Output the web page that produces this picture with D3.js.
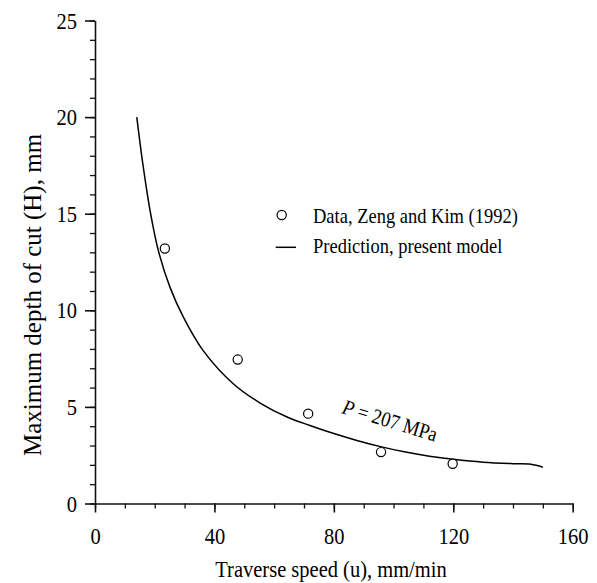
<!DOCTYPE html>
<html>
<head>
<meta charset="utf-8">
<script src="https://cdn.jsdelivr.net/npm/d3@7"></script>
<style>
  html, body { margin: 0; padding: 0; background: #fff; }
  svg { display: block; }
  text { font-family: "Liberation Serif", "Times New Roman", serif; fill: #000; }
</style>
</head>
<body>
<svg id="chart" width="597" height="583"></svg>
<script>
// Measured depth of cut (Zeng and Kim, 1992)
const dataSpeed = [23.4, 47.8, 71.4, 95.8, 119.8];
const dataDepth = [13.2, 7.45, 4.65, 2.66, 2.06];

// Model prediction, P = 207 MPa
const modelSpeed = [14.0, 16.0, 18.4, 21.2, 25.1, 29.6, 36.3, 46.3, 55.3, 64.7, 72, 80, 88, 96, 104, 112, 120, 130, 140, 146, 150];
const modelDepth = [20.0, 17.6, 15.2, 13.1, 11.2, 9.65, 7.9, 6.2, 5.2, 4.45, 4.04, 3.62, 3.25, 2.93, 2.66, 2.45, 2.29, 2.14, 2.06, 2.03, 1.88];

const xMajor = [0, 40, 80, 120, 160];
const yMajor = [0, 5, 10, 15, 20, 25];

const tall = 1.15; // glyphs in this figure are drawn slightly taller than wide

const svg = d3.select("#chart");
const x = d3.scaleLinear().domain([0, 160]).range([95, 572.7]);
const y = d3.scaleLinear().domain([0, 25]).range([503.5, 20.5]);

// minor ticks
svg.append("g")
  .attr("transform", `translate(0,${y(0)})`)
  .call(d3.axisBottom(x).tickValues(d3.range(0, 161, 10)).tickSize(5).tickSizeOuter(0).tickFormat(""))
  .call(g => g.select(".domain").remove())
  .call(g => g.selectAll("line").attr("stroke", "#111").attr("stroke-width", 1.3));
svg.append("g")
  .attr("transform", `translate(${x(0)},0)`)
  .call(d3.axisLeft(y).tickValues(d3.range(0, 26, 1)).tickSize(5).tickSizeOuter(0).tickFormat(""))
  .call(g => g.select(".domain").remove())
  .call(g => g.selectAll("line").attr("stroke", "#111").attr("stroke-width", 1.3));

// major ticks with labels
const xAxis = svg.append("g")
  .attr("transform", `translate(0,${y(0)})`)
  .call(d3.axisBottom(x).tickValues(xMajor).tickSize(9).tickSizeOuter(0).tickFormat(d3.format("d")));
const yAxis = svg.append("g")
  .attr("transform", `translate(${x(0)},0)`)
  .call(d3.axisLeft(y).tickValues(yMajor).tickSize(10).tickSizeOuter(0).tickPadding(8).tickFormat(d3.format("d")));

[xAxis, yAxis].forEach(g => {
  g.select(".domain").attr("stroke", "#111").attr("stroke-width", 1.6);
  g.selectAll("line").attr("stroke", "#111").attr("stroke-width", 1.6);
  g.selectAll("text").attr("font-family", "Liberation Serif").attr("font-size", 20.5).attr("fill", "#000");
});
xAxis.selectAll("text")
  .attr("y", null).attr("dy", null)
  .attr("transform", `translate(0,40) scale(1,${tall})`);
yAxis.selectAll("text")
  .attr("dy", null)
  .attr("transform", `translate(0,7.5) scale(1,${tall})`);

// model curve
const line = d3.line()
  .x((d, i) => x(modelSpeed[i]))
  .y((d, i) => y(modelDepth[i]))
  .curve(d3.curveCatmullRom.alpha(0.5));
svg.append("path")
  .datum(modelSpeed)
  .attr("d", line)
  .attr("fill", "none")
  .attr("stroke", "#000")
  .attr("stroke-width", 1.5);

// measured points
svg.append("g").selectAll("circle")
  .data(dataSpeed)
  .join("circle")
  .attr("cx", d => x(d))
  .attr("cy", (d, i) => y(dataDepth[i]))
  .attr("r", 4.6)
  .attr("fill", "#fff")
  .attr("stroke", "#000")
  .attr("stroke-width", 1.2);

// curve label
svg.append("text")
  .attr("transform", `translate(341,413) rotate(17) scale(1,${tall})`)
  .attr("font-size", 18.5)
  .html('<tspan font-style="italic">P</tspan> = 207 MPa');

// legend
const legend = svg.append("g");
legend.append("circle")
  .attr("cx", 281.7).attr("cy", 215).attr("r", 4.6)
  .attr("fill", "#fff").attr("stroke", "#000").attr("stroke-width", 1.2);
legend.append("line")
  .attr("x1", 275.7).attr("x2", 296).attr("y1", 247.3).attr("y2", 247.3)
  .attr("stroke", "#000").attr("stroke-width", 1.5);
legend.append("text").attr("transform", `translate(313,223) scale(1,${tall})`).attr("font-size", 18.5)
  .text("Data, Zeng and Kim (1992)");
legend.append("text").attr("transform", `translate(313,253) scale(1,${tall})`).attr("font-size", 18.5)
  .text("Prediction, present model");

// axis titles
svg.append("text")
  .attr("transform", `translate(331,577) scale(1,1.1)`)
  .attr("text-anchor", "middle")
  .attr("font-size", 20.5)
  .text("Traverse speed (u), mm/min");
svg.append("text")
  .attr("transform", "translate(41,295) rotate(-90)")
  .attr("text-anchor", "middle")
  .attr("font-size", 25)
  .text("Maximum depth of cut (H), mm");
</script>
</body>
</html>
